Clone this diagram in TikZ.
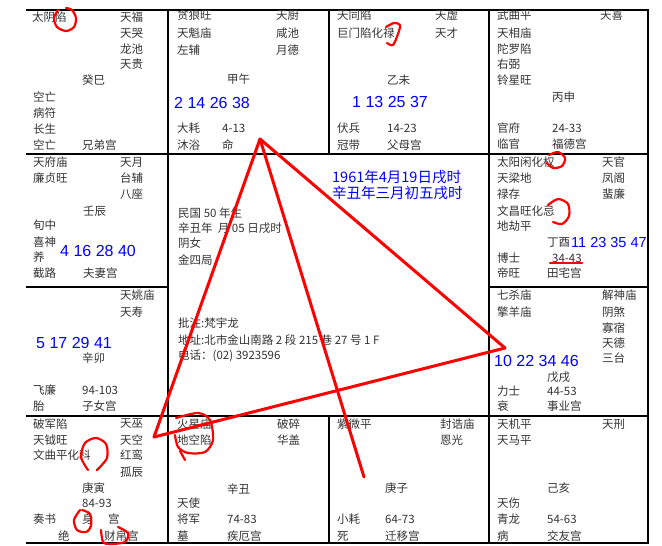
\documentclass[tikz,border=0pt]{standalone}
\usepackage{fontspec}
\newfontfamily\cjk{Noto Sans CJK SC}
\newfontfamily\numf{Liberation Sans}
\tikzset{
 tx/.style={anchor=west, inner sep=0pt, text=black!80, font=\cjk\fontsize{11.5}{12}\selectfont},
 bn/.style={anchor=west, inner sep=0pt, text=blue, font=\numf\fontsize{16}{16}\selectfont},
 bc/.style={anchor=west, inner sep=0pt, text=blue, font=\cjk\fontsize{14.5}{15}\selectfont},
 gridln/.style={line width=1.6pt, black},
 redln/.style={red, line width=3pt, line cap=round},
 redmk/.style={red, line width=2.2pt, line cap=round, line join=round},
}
\begin{document}
\begin{tikzpicture}[x=1pt,y=-1pt]
\useasboundingbox (0,0) rectangle (662,546);
\fill[white] (0,0) rectangle (662,546);
% grid
\draw[gridln] (26,10) -- (648,10) -- (648,543) -- (26,543);
\draw[gridln] (168,10) -- (168,543);
\draw[gridln] (489,10) -- (489,543);
\draw[gridln] (329,10) -- (329,154);
\draw[gridln] (329,416) -- (329,543);
\draw[gridln] (26,154) -- (648,154);
\draw[gridln] (26,287) -- (168,287);
\draw[gridln] (489,287) -- (648,287);
\draw[gridln] (26,416) -- (648,416);
% 巳
\foreach \n/\x/\y/\s in {a1/32/17/太阴陷, a2/120/17/天福, a3/120/33/天哭, a4/120/49/龙池, a5/120/64/天贵,
  a6/82/80/癸巳, a7/33/97/空亡, a8/33/113/病符, a9/33/129/长生, a10/33/145/空亡, a11/82/145/兄弟宫}
  \node[tx] (\n) at (\x,\y) {\s};
% 午
\foreach \n/\x/\y/\s in {b1/177/15/贪狼旺, b2/276/15/天厨, b3/177/33/天魁庙, b4/276/33/咸池, b5/177/50/左辅, b6/276/50/月德,
  b7/227/79/甲午, b8/177/128/大耗, b9/222/128/4-13, b10/177/145/沐浴, b11/222/145/命}
  \node[tx] (\n) at (\x,\y) {\s};
\node[bn] (b12) at (174,103) {2 14 26 38};
% 未
\foreach \n/\x/\y/\s in {c1/337/15/天同陷, c2/435/15/天虚, c3/337/33/巨门陷化禄, c4/435/33/天才,
  c5/387/80/乙未, c6/337/128/伏兵, c7/387/128/14-23, c8/337/145/冠带, c9/387/145/父母宫}
  \node[tx] (\n) at (\x,\y) {\s};
\node[bn] (c10) at (352,102) {1 13 25 37};
% 申
\foreach \n/\x/\y/\s in {d1/497/15/武曲平, d2/600/15/天喜, d3/497/33/天相庙, d4/497/49/陀罗陷, d5/497/64/右弼, d6/497/80/铃星旺,
  d7/552/97/丙申, d8/497/128/官府, d9/552/128/24-33, d10/497/144/临官, d11/552/144/福德宫}
  \node[tx] (\n) at (\x,\y) {\s};
% 辰
\foreach \n/\x/\y/\s in {e1/33/162/天府庙, e2/120/162/天月, e3/33/178/廉贞旺, e4/120/178/台辅, e5/120/194/八座,
  e6/83/211/壬辰, e7/33/225/旬中, e8/33/242/喜神, e9/33/257/养, e10/33/273/截路, e11/83/273/夫妻宫}
  \node[tx] (\n) at (\x,\y) {\s};
\node[bn] (e12) at (60,251) {4 16 28 40};
% 酉
\foreach \n/\x/\y/\s in {f1/497/162/太阳闲化权, f2/602/162/天官, f3/497/178/天梁地, f4/602/178/凤阁, f5/497/194/禄存, f6/602/194/蜚廉,
  f7/497/211/文昌旺化忌, f8/497/226/地劫平, f9/547/242/丁酉, f10/497/258/博士, f11/552/258/34-43, f12/497/273/帝旺, f13/547/273/田宅宫}
  \node[tx] (\n) at (\x,\y) {\s};
\node[bn, font=\numf\fontsize{14.5}{15}\selectfont] (f14) at (571,243) {11 23 35 47};
% 卯
\foreach \n/\x/\y/\s in {g1/120/295/天姚庙, g2/120/312/天寿, g3/82/358/辛卯, g4/33/390/飞廉, g5/82/390/94-103, g6/33/406/胎, g7/82/406/子女宫}
  \node[tx] (\n) at (\x,\y) {\s};
\node[bn] (g8) at (36,343) {5 17 29 41};
% 戌
\foreach \n/\x/\y/\s in {h1/497/295/七杀庙, h2/497/312/擎羊庙, h3/602/295/解神庙, h4/602/312/阴煞, h5/602/328/寡宿, h6/602/343/天德, h7/602/358/三台,
  h8/547/377/戊戌, h9/497/391/力士, h10/547/391/44-53, h11/497/406/衰, h12/547/406/事业宫}
  \node[tx] (\n) at (\x,\y) {\s};
\node[bn] (h13) at (494,361) {10 22 34 46};
% 寅
\foreach \n/\x/\y/\s in {i1/33/424/破军陷, i2/120/424/天巫, i3/33/440/天钺旺, i4/120/440/天空, i5/33/455/文曲平化科, i6/120/455/红鸾, i7/120/472/孤辰,
  i8/82/488/庚寅, i9/82/503/84-93, i10/33/519/奏书, i11/82/519/身, i12/108/519/宫, i13/58/536/绝, i14/104/536/财帛宫}
  \node[tx] (\n) at (\x,\y) {\s};
% 丑
\foreach \n/\x/\y/\s in {j1/177/424/火星庙, j2/277/424/破碎, j3/177/440/地空陷, j4/277/440/华盖, j5/227/489/辛丑, j6/177/503/天使,
  j7/177/519/将军, j8/227/519/74-83, j9/177/536/墓, j10/227/536/疾厄宫}
  \node[tx] (\n) at (\x,\y) {\s};
% 子
\foreach \n/\x/\y/\s in {k1/337/424/紫微平, k2/440/424/封诰庙, k3/440/440/恩光, k4/385/488/庚子, k5/337/519/小耗, k6/385/519/64-73, k7/337/536/死, k8/385/536/迁移宫}
  \node[tx] (\n) at (\x,\y) {\s};
% 亥
\foreach \n/\x/\y/\s in {l1/497/424/天机平, l2/602/424/天刑, l3/497/440/天马平, l4/547/488/己亥, l5/497/503/天伤, l6/497/519/青龙, l7/547/519/54-63, l8/497/536/病, l9/547/536/交友宫}
  \node[tx] (\n) at (\x,\y) {\s};
% center
\node[bc] (m1) at (332,177) {1961年4月19日戌时};
\node[bc] (m2) at (332,193) {辛丑年三月初五戌时};
\foreach \n/\y/\s in {m3/213/民国 50 年生, m4/228/辛丑年\ \ 月 05 日戌时, m5/243/阴女, m6/260/金四局, m7/323/批注:梵宇龙, m8/340/地址:北市金山南路 2 段 215 巷 27 号 1 F, m9/356/电话：(02) 3923596}
  \node[tx] (\n) at (178,\y) {\s};
% red triangle
\coordinate (apex) at (260,139);
\coordinate (lv) at (154,437);
\coordinate (rv) at (505,348);
\coordinate (bv) at (364,477);
\draw[redln] (apex) -- (lv);
\draw[redln] (apex) -- (rv);
\draw[redln] (lv) -- (rv);
\draw[redln] (apex) -- (bv);
% red marks
\draw[redmk] plot[smooth] coordinates {(58,10) (54,18) (57,27) (66,31) (74,27) (76,18) (72,10) (66,8)};
\draw[redmk] plot[smooth] coordinates {(386,27) (394,23) (400,25) (398,34) (393,45) (387,43)};
\draw[redmk] plot[smooth] coordinates {(549,155) (558,152) (565,158) (562,166) (553,168) (547,163)};
\draw[redmk] plot[smooth] coordinates {(548,205) (558,199) (568,204) (569,216) (562,224) (553,222)};
\draw[redmk] (550,263) -- (582,263);
\draw[redmk] plot[smooth] coordinates {(88,470) (81,457) (85,443) (96,438) (106,444) (107,458) (97,470)};
\draw[redmk] plot[smooth] coordinates {(80,510) (74,520) (77,530) (86,532) (91,526) (90,514) (82,510)};
\draw[redmk] plot[smooth] coordinates {(118,527) (128,533) (125,542) (110,544) (103,542) (101,530)};
\draw[redmk] plot[smooth] coordinates {(176,418) (198,413) (210,420) (213,440) (205,452) (188,453) (178,447) (175,435)};
\draw[redmk] (180,451) -- (185,460);
\end{tikzpicture}
\end{document}
